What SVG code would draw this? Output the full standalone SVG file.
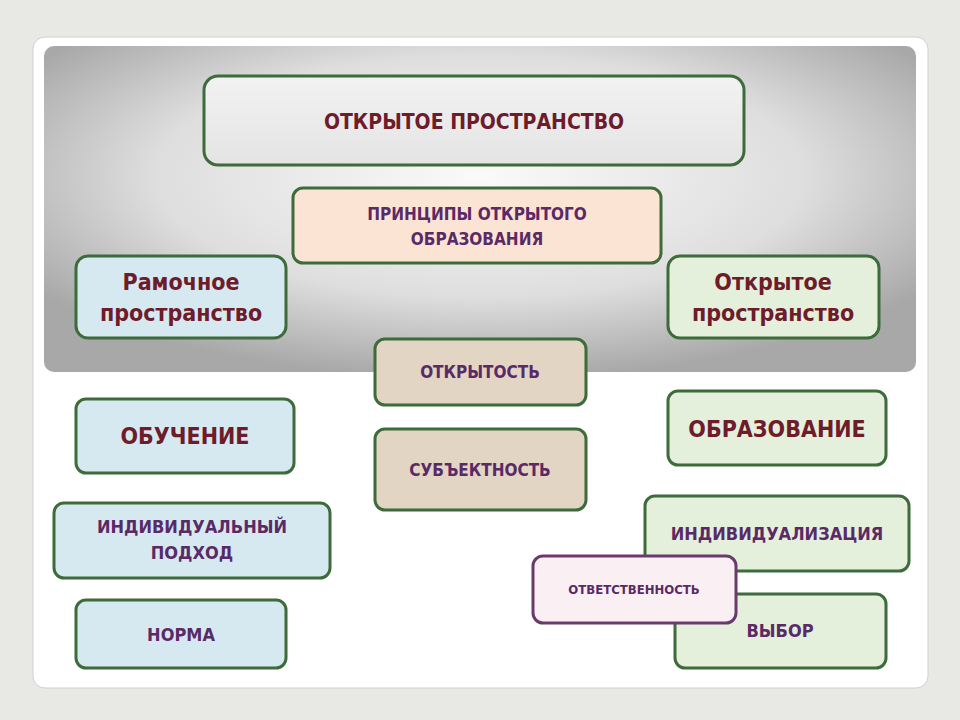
<svg xmlns="http://www.w3.org/2000/svg" width="960" height="720" viewBox="0 0 960 720">
<defs>
<radialGradient id="bg" cx="0.5" cy="0.4" r="0.62"><stop offset="0" stop-color="#fafafa"/><stop offset="0.6" stop-color="#dedede"/><stop offset="1" stop-color="#a8a8a8"/></radialGradient>
<linearGradient id="top" x1="0" y1="0" x2="0" y2="1"><stop offset="0" stop-color="#f2f2f2"/><stop offset="1" stop-color="#e4e4e4"/></linearGradient>
</defs>
<style>
.b{stroke:#3d6b3a;stroke-width:3}
.blue{fill:#d6e9f1}.green{fill:#e4efdc}.tan{fill:#e2d5c3}
.t{font-family:"DejaVu Sans Condensed","Liberation Sans Narrow","Liberation Sans",sans-serif;font-weight:bold;text-anchor:middle}
.red{fill:#6e1b2a}.pur{fill:#5a2a66}
</style>
<rect width="960" height="720" fill="#e8e8e5"/>
<rect x="33" y="37" width="895" height="651" rx="12" fill="#fff" stroke="#d0d0d0"/>
<rect x="44" y="46" width="872" height="326" rx="10" fill="url(#bg)"/>
<g id="n1"><rect class="b" x="204" y="76" width="540" height="89" rx="14" fill="url(#top)"/><text class="t red" x="474" y="129" font-size="21">ОТКРЫТОЕ ПРОСТРАНСТВО</text></g>
<g id="n2"><rect class="b" x="293" y="188" width="368" height="75" rx="10" fill="#fbe4d4"/><text class="t pur" font-size="17"><tspan x="477" y="220">ПРИНЦИПЫ ОТКРЫТОГО</tspan><tspan x="477" y="245">ОБРАЗОВАНИЯ</tspan></text></g>
<g id="n3"><rect class="b blue" x="76" y="256" width="210" height="82" rx="12"/><text class="t red" font-size="23"><tspan x="181" y="290">Рамочное</tspan><tspan x="181" y="321">пространство</tspan></text></g>
<g id="n4"><rect class="b green" x="668" y="256" width="211" height="82" rx="12"/><text class="t red" font-size="23"><tspan x="773" y="290">Открытое</tspan><tspan x="773" y="321">пространство</tspan></text></g>
<g id="n5"><rect class="b tan" x="375" y="339" width="211" height="66" rx="10"/><text class="t pur" x="480" y="378" font-size="17">ОТКРЫТОСТЬ</text></g>
<g id="n6"><rect class="b tan" x="375" y="429" width="211" height="81" rx="10"/><text class="t pur" x="480" y="476" font-size="17">СУБЪЕКТНОСТЬ</text></g>
<g id="n7"><rect class="b blue" x="76" y="399" width="218" height="74" rx="10"/><text class="t red" x="185" y="444" font-size="23">ОБУЧЕНИЕ</text></g>
<g id="n8"><rect class="b green" x="668" y="391" width="218" height="74" rx="10"/><text class="t red" x="777" y="437" font-size="23">ОБРАЗОВАНИЕ</text></g>
<g id="n9"><rect class="b blue" x="54" y="503" width="276" height="75" rx="10"/><text class="t pur" font-size="18"><tspan x="192" y="533">ИНДИВИДУАЛЬНЫЙ</tspan><tspan x="192" y="559">ПОДХОД</tspan></text></g>
<g id="n10"><rect class="b green" x="645" y="496" width="264" height="75" rx="10"/><text class="t pur" x="777" y="540" font-size="18">ИНДИВИДУАЛИЗАЦИЯ</text></g>
<g id="n11"><rect class="b blue" x="76" y="600" width="210" height="68" rx="10"/><text class="t pur" x="181" y="641" font-size="18">НОРМА</text></g>
<g id="n12"><rect class="b green" x="675" y="594" width="211" height="74" rx="10"/><text class="t pur" x="780" y="637" font-size="18">ВЫБОР</text></g>
<g id="n13"><rect x="533" y="556" width="203" height="67" rx="10" fill="#faf0f3" stroke="#6a3a6a" stroke-width="3"/><text class="t pur" x="634" y="594" font-size="13">ОТВЕТСТВЕННОСТЬ</text></g>
<g id="connectors"/>
</svg>
